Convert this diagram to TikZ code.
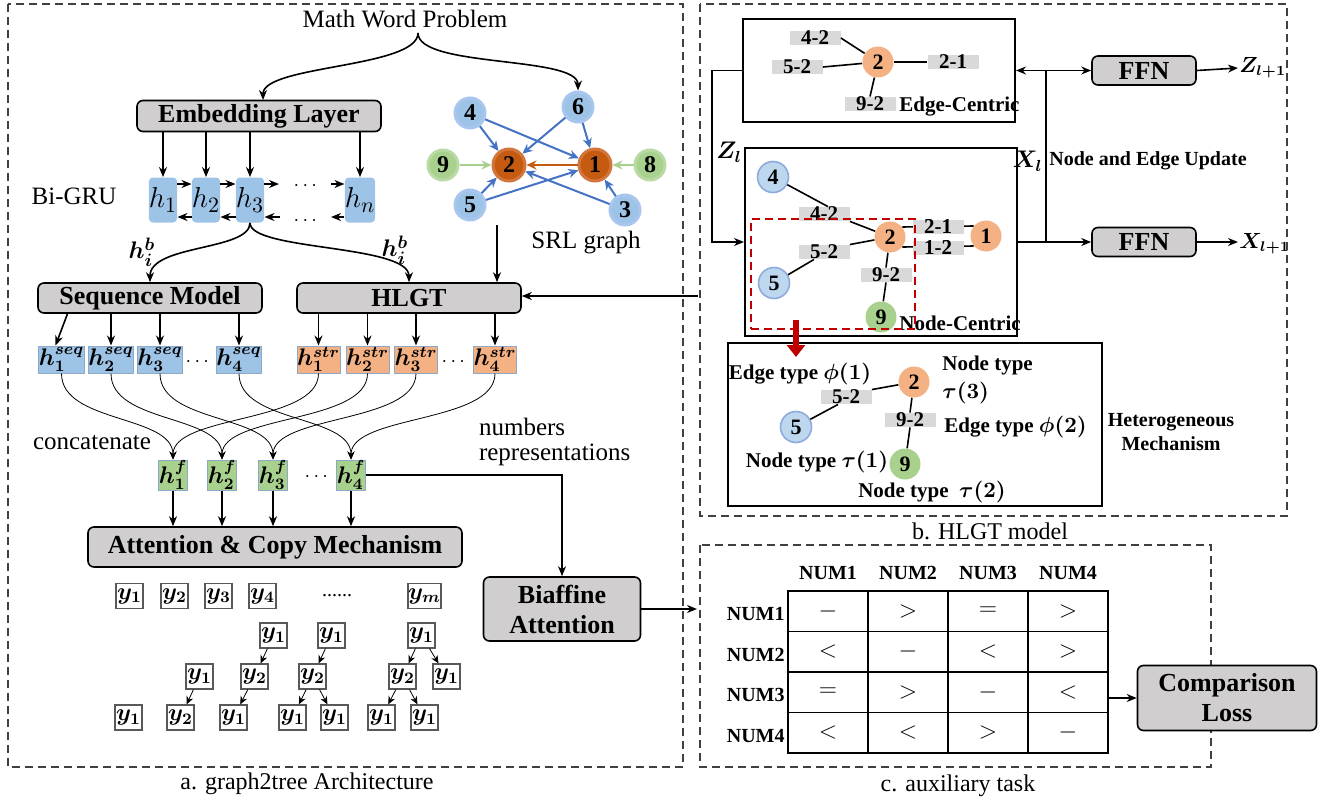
\documentclass[tikz,border=0pt]{standalone}
\usepackage{fontspec}
\setmainfont{Liberation Serif}
\usepackage{amsmath}
\usepackage{bm}
\usetikzlibrary{arrows.meta,positioning}

\definecolor{boxgray}{HTML}{D0CECE}
\definecolor{panelgray}{HTML}{404040}
\definecolor{hblue}{HTML}{9DC3E6}
\definecolor{strorange}{HTML}{F4B183}
\definecolor{fgreen}{HTML}{A9D18E}
\definecolor{cellborder}{HTML}{8EA9C8}
\definecolor{ygray}{HTML}{595959}
\definecolor{srlblueline}{HTML}{A8C6EE}
\definecolor{srlbrown}{HTML}{C55A11}
\definecolor{srlbrownline}{HTML}{D2763C}
\definecolor{edgeblue}{HTML}{4472C4}
\definecolor{nodeblue}{HTML}{BDD7EE}
\definecolor{nodeblueline}{HTML}{8FAADC}
\definecolor{labgray}{HTML}{D9D9D9}
\definecolor{darkred}{HTML}{C00000}

\newcommand{\boxfont}{\bfseries\fontsize{13}{15}\selectfont}
\newcommand{\txtfont}{\fontsize{12.5}{15}\selectfont}
\newcommand{\labfont}{\bfseries\fontsize{10.5}{12}\selectfont}
\newcommand{\numfont}{\bfseries\fontsize{10}{12}\selectfont}

\begin{document}
\begin{tikzpicture}[x=0.5pt,y=-0.5pt,
    panel/.style={draw=panelgray, line width=1pt, dash pattern=on 4pt off 2.5pt},
    graybox/.style={draw, line width=0.8pt, rounded corners=3pt, fill=boxgray, font=\boxfont, inner sep=0pt, align=center},
    subbox/.style={draw, line width=1pt, inner sep=0pt},
    arr/.style={-{Stealth[length=5pt,width=4pt]}, line width=0.8pt},
    thinarr/.style={-{Stealth[length=4pt,width=3.5pt]}, line width=0.4pt},
    hcell/.style={fill=hblue, rounded corners=2pt, minimum width=13pt, minimum height=22.5pt, inner sep=0pt, font=\fontsize{15}{17}\selectfont},
    seqcell/.style={fill=hblue, draw=cellborder, line width=0.5pt, minimum width=21.5pt, minimum height=13.5pt, inner sep=0pt, font=\fontsize{11.5}{13}\selectfont},
    strcell/.style={seqcell, fill=strorange},
    fcell/.style={seqcell, fill=fgreen, minimum width=12pt, minimum height=15pt, font=\fontsize{12}{13}\selectfont},
    ybox/.style={draw=ygray, line width=0.6pt, minimum width=13.5pt, minimum height=12.5pt, inner sep=0pt, font=\fontsize{12}{14}\selectfont},
    srl/.style={circle, minimum size=15pt, inner sep=0pt, line width=1.5pt, font=\bfseries\fontsize{12}{14}\selectfont},
    srlleaf/.style={srl, fill=hblue, draw=srlblueline},
    srlroot/.style={srl, fill=srlbrown, draw=srlbrownline, minimum size=16pt},
    srlnum/.style={srl, fill=fgreen, draw=fgreen!80!white},
    srledge/.style={-{Stealth[length=5pt,width=4.5pt]}, line width=1pt, draw=edgeblue},
    gnode/.style={circle, minimum size=15.5pt, inner sep=0pt, font=\bfseries\fontsize{11}{12}\selectfont},
    gblue/.style={gnode, fill=nodeblue, draw=nodeblueline, line width=0.8pt},
    gorange/.style={gnode, fill=strorange},
    ggreen/.style={gnode, fill=fgreen},
    elab/.style={fill=labgray, minimum width=25.5pt, minimum height=7pt, inner sep=0pt, font=\bfseries\fontsize{10.5}{10}\selectfont},
    tcell/.style={draw, line width=0.6pt, minimum width=40pt, minimum height=20.25pt, inner sep=0pt, font=\fontsize{12}{14}\selectfont}]

\useasboundingbox (0,0) rectangle (1323,803);

% panels
\draw[panel] (8,4) rectangle (683,767);
\draw[panel] (700,4) rectangle (1287,516);
\draw[panel] (700,545) rectangle (1211,767);
\node[font=\fontsize{12}{14}\selectfont] (capa) at (307,784) {a. graph2tree Architecture};
\node[font=\fontsize{12}{14}\selectfont] (capb) at (990,531) {b. HLGT model};
\node[font=\fontsize{12}{14}\selectfont] (capc) at (958,786) {c. auxiliary task};

% encoder
\node[font=\txtfont] (mwp) at (405,19) {Math Word Problem};
\coordinate (mwptip) at (418,33);
\node[graybox, minimum width=122pt, minimum height=15.5pt] (emb) at (259,116) {Embedding Layer};
\node[font=\txtfont] (bigru) at (74,196) {Bi-GRU};
\node[hcell] (h1) at (163,200) {$h_1$};
\node[hcell] (h2) at (206,200) {$h_2$};
\node[hcell] (h3) at (250,200) {$h_3$};
\node[hcell] (hn) at (360,200) {$h_n$};
\node (dotsa) at (307,186) {$\cdots$};
\node (dotsb) at (307,221) {$\cdots$};
\coordinate (fwa) at (279,184);
\coordinate (fwb) at (331,184);
\coordinate (bwa) at (280,217);
\coordinate (bwb) at (331,217);

\draw[arr] (mwptip) .. controls +(0,35) and +(0,-35) .. (263,100);
\foreach \i in {1,2,3,n}
  \draw[arr] (emb.south -| h\i) -- (h\i.north);
\draw[arr] (h1.east |- fwa) -- (h2.west |- fwa);
\draw[arr] (h2.east |- fwa) -- (h3.west |- fwa);
\draw[arr] (h3.east |- fwa) -- (fwa);
\draw[arr] (fwb) -- (hn.west |- fwb);
\draw[arr] (h2.west |- bwa) -- (h1.east |- bwa);
\draw[arr] (h3.west |- bwa) -- (h2.east |- bwa);
\draw[arr] (bwa) -- (h3.east |- bwa);
\draw[arr] (hn.west |- bwb) -- (bwb);

% SRL graph
\node[srlleaf] (s4) at (470,113) {4};
\node[srlleaf] (s6) at (578,107) {6};
\node[srlnum] (s9) at (443,165) {9};
\node[srlroot] (s2) at (509,165) {2};
\node[srlroot] (s1) at (595,165) {1};
\node[srlnum] (s8) at (650,165) {8};
\node[srlleaf] (s5) at (470,205) {5};
\node[srlleaf] (s3) at (625,210) {3};
\node[font=\txtfont] (srlname) at (586,243) {SRL graph};
\draw[arr] (mwptip) .. controls +(0,35) and +(0,-35) .. (s6.north);
\foreach \a/\b in {4/2,4/1,6/2,6/1,5/2,5/1,3/2,3/1}
  \draw[srledge] (s\a) -- (s\b);
\draw[srledge, draw=srlbrown] (s1) -- (s2);
\draw[srledge, draw=fgreen] (s9) -- (s2);
\draw[srledge, draw=fgreen] (s8) -- (s1);

% sequence model and HLGT
\node[graybox, minimum width=112pt, minimum height=15pt] (sm) at (150,298) {Sequence Model};
\node[graybox, minimum width=112pt, minimum height=15pt] (hlgt) at (409,298) {HLGT};
\draw[arr] (h3.south) .. controls +(0,28) and +(0,-38) .. (sm.north);
\draw[arr] (h3.south) .. controls +(0,28) and +(0,-38) .. (hlgt.north);
\node[font=\fontsize{13}{15}\selectfont] (hbl) at (142,252) {$\bm{h_i^b}$};
\node[font=\fontsize{13}{15}\selectfont] (hbr) at (395,250) {$\bm{h_i^b}$};
\coordinate (srlout) at (497,225);
\draw[arr] (srlout) -- (srlout |- hlgt.north);
\coordinate (hlgtin) at (698,296);
\draw[arr] (hlgtin) -- (hlgt.east |- hlgtin);

\node[seqcell] (q1) at (61.5,359.5) {$\bm{h_1^{seq}}$};
\node[seqcell] (q2) at (111,359.5) {$\bm{h_2^{seq}}$};
\node[seqcell] (q3) at (160,359.5) {$\bm{h_3^{seq}}$};
\node[seqcell] (q4) at (239,359.5) {$\bm{h_4^{seq}}$};
\node[strcell] (t1) at (318.5,359.5) {$\bm{h_1^{str}}$};
\node[strcell] (t2) at (367.5,359.5) {$\bm{h_2^{str}}$};
\node[strcell] (t3) at (416,359.5) {$\bm{h_3^{str}}$};
\node[strcell] (t4) at (495,359.5) {$\bm{h_4^{str}}$};
\node (dotsq) at (199,362) {$\cdots$};
\node (dotst) at (455,362) {$\cdots$};
\draw[arr] ([xshift=3pt]sm.south -| q1) -- ([xshift=-3pt]q1.north);
\foreach \i in {2,3,4}
  \draw[arr] (sm.south -| q\i) -- (q\i.north);
\foreach \i in {1,...,4}
  \draw[arr] (hlgt.south -| t\i) -- (t\i.north);

% concatenation
\node[fcell] (f1) at (173,475) {$\bm{h_1^f}$};
\node[fcell] (f2) at (222,475) {$\bm{h_2^f}$};
\node[fcell] (f3) at (273,475) {$\bm{h_3^f}$};
\node[fcell] (f4) at (351,475) {$\bm{h_4^f}$};
\node (dotsf) at (318,477) {$\cdots$};
\node[font=\txtfont] (concat) at (92,443) {concatenate};
\node[font=\txtfont, anchor=west] (numa) at (472,427) {numbers};
\node[font=\txtfont, anchor=west] (numb) at (472,455) {representations};
\foreach \i in {1,...,4} {
  \draw[thinarr] (q\i.south) .. controls +(0,50) and +(0,-45) .. (f\i.north);
  \draw[thinarr] (t\i.south) .. controls +(0,50) and +(0,-45) .. (f\i.north);
}

% decoder
\node[graybox, minimum width=187pt, minimum height=20pt] (att) at (275,547) {Attention \& Copy Mechanism};
\node[graybox, minimum width=78.5pt, minimum height=32pt] (bia) at (562,609) {Biaffine\\Attention};
\foreach \i in {1,...,4}
  \draw[arr] (f\i.south) -- (f\i.south |- att.north);
\draw[arr] (f4.east) -| (bia.north);
\coordinate (cin) at (697,609);
\draw[arr] (bia.east) -- (cin);

\node[ybox] (y11) at (129.5,596) {$\bm{y_1}$};
\node[ybox] (y12) at (174.5,596) {$\bm{y_2}$};
\node[ybox] (y13) at (218.5,596) {$\bm{y_3}$};
\node[ybox] (y14) at (262.5,596) {$\bm{y_4}$};
\node (y15) at (337,596) {......};
\node[ybox] (y16) at (424.5,596) {$\bm{y_m}$};
\node[ybox] (y21) at (273.5,635.5) {$\bm{y_1}$};
\node[ybox] (y22) at (331.5,635.5) {$\bm{y_1}$};
\node[ybox] (y23) at (421.5,635.5) {$\bm{y_1}$};
\node[ybox] (y31) at (199.5,676.5) {$\bm{y_1}$};
\node[ybox] (y32) at (254.5,676.5) {$\bm{y_2}$};
\node[ybox] (y33) at (312.5,676.5) {$\bm{y_2}$};
\node[ybox] (y34) at (402.5,676.5) {$\bm{y_2}$};
\node[ybox] (y35) at (446.5,676.5) {$\bm{y_1}$};
\node[ybox] (y41) at (128.5,717.5) {$\bm{y_1}$};
\node[ybox] (y42) at (180.5,717.5) {$\bm{y_2}$};
\node[ybox] (y43) at (233.5,717.5) {$\bm{y_1}$};
\node[ybox] (y44) at (292.5,717.5) {$\bm{y_1}$};
\node[ybox] (y45) at (334.5,717.5) {$\bm{y_1}$};
\node[ybox] (y46) at (381.5,717.5) {$\bm{y_1}$};
\node[ybox] (y47) at (424.5,717.5) {$\bm{y_1}$};
\foreach \p/\q in {21/32,22/33,23/34,23/35,31/42,32/43,33/44,33/45,34/46,34/47}
  \draw[thinarr] (y\p) -- (y\q);

% HLGT model: edge-centric
\node[subbox, minimum width=136pt, minimum height=51.5pt] (ec) at (879,70.5) {};
\node[elab] (ea42) at (815,38) {4-2};
\node[elab] (ea52) at (797,67) {5-2};
\node[gorange] (ea2) at (878,62) {2};
\node[elab] (ea21) at (953,62) {2-1};
\node[elab] (ea92) at (870,104) {9-2};
\node[font=\labfont, anchor=west, inner sep=0pt] (ectext) at (899,107) {Edge-Centric};
\draw[line width=0.8pt] (ea42.east) -- (ea2);
\draw[line width=0.8pt] (ea52.east) -- (ea2);
\draw[line width=0.8pt] (ea2) -- (ea21.west);
\draw[line width=0.8pt] (ea2) -- (ea92.north);

% node-centric
\node[subbox, minimum width=136pt, minimum height=94pt] (nc) at (881,242) {};
\node[gblue] (nb4) at (773,177) {4};
\node[elab] (nb42) at (824,214) {4-2};
\node[gorange] (nb2) at (890,237) {2};
\node[gorange] (nb1) at (986,236) {1};
\node[elab] (nb21) at (938,227) {2-1};
\node[elab] (nb12) at (938,248) {1-2};
\node[elab] (nb52) at (824,252) {5-2};
\node[gblue] (nb5) at (774,283) {5};
\node[elab] (nb92) at (886,275) {9-2};
\node[ggreen] (nb9) at (881,317) {9};
\node[font=\labfont, anchor=west, inner sep=0pt] (nctext) at (899,323) {Node-Centric};
\draw[line width=0.8pt] (nb4) -- ([xshift=2pt]nb42.north);
\draw[line width=0.8pt] (nb42.south east) -- (nb2);
\draw[line width=0.8pt] (nb52.north east) -- (nb2);
\draw[line width=0.8pt] (nb5) -- ([xshift=-5pt]nb52.south);
\draw[line width=0.8pt] (nb2.39) -- (nb1.141);
\draw[line width=0.8pt] (nb2.-39) -- (nb1.-141);
\node[elab] at (nb21) {2-1};
\node[elab] at (nb12) {1-2};
\draw[line width=0.8pt] (nb2) -- (nb92.north);
\draw[line width=0.8pt] (nb92.south) -- (nb9);
\node[draw=darkred, line width=1pt, dash pattern=on 4pt off 2.5pt, minimum width=82pt, minimum height=55pt, inner sep=0pt] (focus) at (833,274) {};

\draw[arr] (ec.west) -- ++(-30,0) |- (nc.west);
\node[font=\fontsize{12}{14}\selectfont] (zl) at (729,152) {$\bm{Z_l}$};
\coordinate (xl) at (1046,242);
\node[graybox, minimum width=52pt, minimum height=14.5pt] (ffn1) at (1144,70.5) {FFN};
\node[graybox, minimum width=52pt, minimum height=14.5pt] (ffn2) at (1144,242) {FFN};
\draw[line width=0.8pt] (nc.east) -- (xl);
\draw[arr] (xl) -- (ffn2.west);
\draw[line width=0.8pt] (xl) -- (xl |- ec.east);
\draw[arr] (xl |- ec.east) -- (ec.east);
\draw[arr] (xl |- ec.east) -- (ffn1.west);
\node[font=\fontsize{12}{14}\selectfont, anchor=east, inner sep=1pt] (xlab) at (1045,161) {$\bm{X_l}$};
\node[font=\numfont, anchor=west, inner sep=1pt] (update) at (1047,161) {Node and Edge Update};
\node[font=\fontsize{10.5}{12}\selectfont, anchor=west, inner sep=0.5pt] (zout) at (1238,68) {$\bm{Z_{l+1}}$};
\node[font=\fontsize{10.5}{12}\selectfont, anchor=west, inner sep=0.5pt] (xout) at (1238,244) {$\bm{X_{l+1}}$};
\draw[arr] (ffn1.east) -- (zout.west);
\draw[arr] (ffn2.east) -- (xout.west |- ffn2.east);

% heterogeneous mechanism
\node[subbox, minimum width=187pt, minimum height=81.5pt] (het) at (915,424.5) {};
\coordinate (redtip) at (796,357);
\draw[-{Triangle[length=6pt,width=9pt]}, line width=3pt, darkred] ([yshift=5pt]focus.south -| redtip) -- (redtip);
\node[gorange] (hc2) at (914,382) {2};
\node[elab] (hc52) at (846,397) {5-2};
\node[elab] (hc92) at (910,420) {9-2};
\node[gblue] (hc5) at (796,427) {5};
\node[ggreen] (hc9) at (905,464) {9};
\draw[line width=0.8pt] (hc2) -- (hc52.north east);
\draw[line width=0.8pt] ([xshift=-4pt]hc52.south) -- (hc5);
\draw[line width=0.8pt] (hc2) -- (hc92.north);
\draw[line width=0.8pt] (hc92.south) -- (hc9);
\node[font=\labfont] (et1) at (800,374) {Edge type $\bm{\phi(1)}$};
\node[font=\labfont, anchor=west, align=left, inner sep=0pt] (nt3) at (942,380) {Node type\\[2pt]$\bm{\tau(3)}$};
\node[font=\labfont, anchor=west, inner sep=0pt] (et2) at (944,427) {Edge type $\bm{\phi(2)}$};
\node[font=\labfont] (nt1) at (817,462) {Node type $\bm{\tau(1)}$};
\node[font=\labfont] (nt2) at (932,492) {Node type\ \ $\bm{\tau(2)}$};
\node[font=\numfont, align=center] (hetname) at (1171,432) {Heterogeneous\\Mechanism};

% auxiliary task
\foreach \c [count=\i] in {828,908,988,1068}
  \node[font=\numfont] (col\i) at (\c,573) {NUM\i};
\foreach \r [count=\i] in {611.25,651.75,692.25,732.75}
  \node[font=\numfont, anchor=east, inner sep=1pt] (row\i) at (787,\r+3) {NUM\i};
\foreach \vals [count=\i] in {{-,>,=,>},{<,-,<,>},{=,>,-,<},{<,<,>,-}}
  \foreach \v [count=\j] in \vals
    \node[tcell] (c\i\j) at (748+80*\j,570.75+40.5*\i) {$\v$};
\node[graybox, minimum width=89.5pt, minimum height=32.5pt] (cmp) at (1227,698) {Comparison\\Loss};
\draw[arr] (c34.east |- cmp.west) -- (cmp.west);
\end{tikzpicture}
\end{document}
